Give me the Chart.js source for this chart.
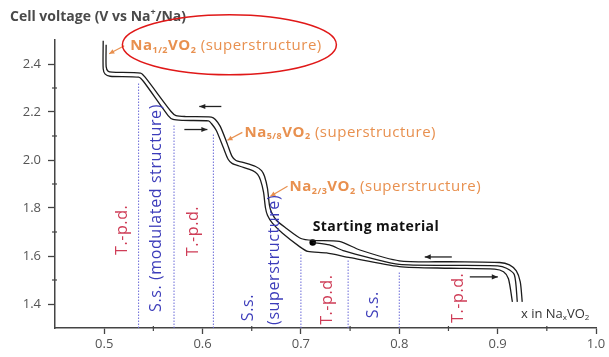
<!DOCTYPE html>
<html><head><meta charset="utf-8">
<script src="https://cdn.jsdelivr.net/npm/chart.js@4.4.0/dist/chart.umd.min.js"></script>
<style>html,body{margin:0;padding:0;background:#fff}#wrap{width:609px;height:357px}</style>
</head><body><div id="wrap"><canvas id="c" width="609" height="357"></canvas></div>
<script>
// Galvanostatic cycling of NaxVO2: cell voltage vs sodium content x
// Charge branch (upper side of the hysteresis band)
const chargeX = [0.502,0.502,0.504,0.508,0.537,0.542,0.568,0.573,0.583,0.609,0.613,0.618,0.625,0.630,0.634,0.641,0.654,0.660,0.663,0.666,0.668,0.670,0.675,0.685,0.700,0.712,0.739,0.760,0.800,0.851,0.902,0.912,0.919,0.923,0.925];
const chargeV = [2.480,2.389,2.370,2.366,2.362,2.343,2.202,2.185,2.181,2.179,2.169,2.140,2.069,2.015,1.998,1.990,1.973,1.956,1.932,1.882,1.812,1.783,1.749,1.716,1.673,1.665,1.661,1.625,1.580,1.576,1.573,1.563,1.538,1.492,1.409];
// Discharge branch (lower side of the hysteresis band)
const dischargeX = [0.499,0.499,0.501,0.506,0.535,0.540,0.565,0.570,0.580,0.606,0.609,0.614,0.621,0.626,0.630,0.638,0.651,0.656,0.659,0.662,0.664,0.666,0.671,0.681,0.699,0.707,0.726,0.750,0.800,0.851,0.897,0.906,0.911,0.915];
const dischargeV = [2.497,2.380,2.358,2.349,2.345,2.327,2.185,2.169,2.165,2.163,2.152,2.123,2.053,2.003,1.986,1.974,1.956,1.940,1.915,1.866,1.800,1.770,1.737,1.696,1.638,1.619,1.613,1.593,1.556,1.549,1.545,1.534,1.505,1.409];
// First discharge, starting from the pristine material
const firstX = [0.712,0.729,0.744,0.770,0.800,0.851,0.900,0.909,0.917,0.920];
const firstV = [1.656,1.646,1.621,1.592,1.565,1.561,1.559,1.549,1.522,1.409];
// Starting material composition
const startX = 0.712, startV = 1.656;
// Phase boundaries (dotted lines) and the voltage where each meets the curve
const boundaryX = [0.535,0.571,0.611,0.700,0.748,0.800];
const boundaryTop = [2.32,2.15,2.11,1.614,1.584,1.535];
// Axis ranges and tick steps
const xMin = 0.45, xMax = 1.0, xStep = 0.05;
const yMin = 1.3, yMax = 2.5, yStep = 0.1;

const pts = (xs, vs) => xs.map((x, i) => ({x, y: vs[i]}));

const FONT = '"Open Sans", sans-serif';
const ORANGE = '#e8904f';
const RED = '#cf3d57';
const BLUE = '#3c3cba';

// Phase region labels (rotated)
const regionLabels = [
  {t:'T.-p.d.', x:0.5183, v:1.709, c:RED},
  {t:'S.s. (modulated structure)', x:0.5530, v:1.800, c:BLUE},
  {t:'T.-p.d.', x:0.5906, v:1.704, c:RED},
  {t:'S.s.', x:0.6466, v:1.385, c:BLUE},
  {t:'(superstructure)', x:0.6731, v:1.584, c:BLUE},
  {t:'T.-p.d.', x:0.7271, v:1.418, c:RED},
  {t:'S.s.', x:0.7739, v:1.397, c:BLUE},
  {t:'T.-p.d.', x:0.8605, v:1.426, c:RED}
];
// Superstructure compositions, with pointer to the curve
const phaseNotes = [
  {frac:'1/2', x:0.5265, v:2.476, from:[0.5204,2.476], to:[0.5051,2.443]},
  {frac:'5/8', x:0.6426, v:2.115, from:[0.6405,2.115], to:[0.6253,2.082]},
  {frac:'2/3', x:0.6885, v:1.888, from:[0.6864,1.891], to:[0.6690,1.849]}
];
// Direction arrows: [xStart, xEnd, v]
const dirArrows = [
  [0.6191,0.5967,2.223],
  [0.5815,0.6049,2.127],
  [0.8534,0.8259,1.596],
  [0.8717,0.9002,1.513]
];

function rich(ctx, x, y, parts, size){
  let cx = x;
  for (const p of parts){
    const s = p.sub || p.sup ? Math.round(size*0.62) : size;
    ctx.font = (p.bold ? 'bold ' : '') + s + 'px ' + FONT;
    const dy = p.sub ? size*0.28 : (p.sup ? -size*0.33 : 0);
    ctx.fillText(p.t, cx, y + dy);
    cx += ctx.measureText(p.t).width;
  }
  return cx;
}

function arrowHead(ctx, x0, y0, x1, y1, len, wid){
  const a = Math.atan2(y1-y0, x1-x0);
  ctx.beginPath();
  ctx.moveTo(x1, y1);
  ctx.lineTo(x1 - len*Math.cos(a) + wid*Math.sin(a), y1 - len*Math.sin(a) - wid*Math.cos(a));
  ctx.lineTo(x1 - len*Math.cos(a) - wid*Math.sin(a), y1 - len*Math.sin(a) + wid*Math.cos(a));
  ctx.closePath();
  ctx.fill();
}

const decorations = {
  id: 'decorations',
  afterDraw(chart){
    const ctx = chart.ctx;
    const xs = chart.scales.x, ys = chart.scales.y;
    const X = v => xs.getPixelForValue(v), Y = v => ys.getPixelForValue(v);
    ctx.save();
    // minor tick marks
    ctx.strokeStyle = '#444'; ctx.lineWidth = 1.2;
    xs.ticks.forEach(t => {
      const k = Math.round(t.value*100);
      if (k % 10 !== 0 && t.value > xMin + 1e-6){
        const px = X(t.value);
        ctx.beginPath(); ctx.moveTo(px, ys.bottom - 2); ctx.lineTo(px, ys.bottom + 3); ctx.stroke();
      }
    });
    ys.ticks.forEach(t => {
      const k = Math.round(t.value*10);
      if (k % 2 !== 0 && t.value < yMax - 1e-6 && t.value > yMin + 1e-6){
        const py = Y(t.value);
        ctx.beginPath(); ctx.moveTo(xs.left - 3, py); ctx.lineTo(xs.left + 2, py); ctx.stroke();
      }
    });

    // axis titles
    ctx.fillStyle = '#4a4a4a';
    ctx.textBaseline = 'middle'; ctx.textAlign = 'left';
    rich(ctx, 10, 17, [{t:'Cell voltage (V vs Na', bold:true},{t:'+', sup:true, bold:true},{t:'/Na)', bold:true}], 14);
    ctx.fillStyle = '#333';
    rich(ctx, 521, 314, [{t:'x in Na'},{t:'x', sub:true},{t:'VO'},{t:'2', sub:true}], 13);

    // region labels
    ctx.textAlign = 'center';
    ctx.font = '16px ' + FONT;
    ctx.letterSpacing = '0.6px';
    regionLabels.forEach(l => {
      ctx.save();
      ctx.translate(X(l.x), Y(l.v));
      ctx.rotate(-Math.PI/2);
      ctx.fillStyle = l.c;
      ctx.fillText(l.t, 0, 0);
      ctx.restore();
    });

    // superstructure notes
    ctx.textAlign = 'left';
    ctx.letterSpacing = '0.5px';
    phaseNotes.forEach(n => {
      ctx.fillStyle = ORANGE;
      rich(ctx, X(n.x), Y(n.v), [{t:'Na', bold:true},{t:n.frac, sub:true, bold:true},{t:'VO', bold:true},{t:'2', sub:true, bold:true},{t:' (superstructure)'}], 15);
      ctx.strokeStyle = ORANGE; ctx.lineWidth = 1.2;
      const x0 = X(n.from[0]), y0 = Y(n.from[1]), x1 = X(n.to[0]), y1 = Y(n.to[1]);
      ctx.beginPath(); ctx.moveTo(x0, y0); ctx.lineTo(x1, y1); ctx.stroke();
      arrowHead(ctx, x0, y0, x1, y1, 5, 2.5);
    });
    ctx.letterSpacing = '0px';

    // direction arrows
    ctx.strokeStyle = '#222'; ctx.fillStyle = '#222'; ctx.lineWidth = 1.3;
    dirArrows.forEach(a => {
      const x0 = X(a[0]), x1 = X(a[1]), y = Y(a[2]);
      ctx.beginPath(); ctx.moveTo(x0, y); ctx.lineTo(x1, y); ctx.stroke();
      arrowHead(ctx, x0, y, x1, y, 6, 2.6);
    });

    // starting material label
    ctx.fillStyle = '#111';
    ctx.font = 'bold 14px ' + FONT;
    ctx.letterSpacing = '0.4px';
    ctx.fillText('Starting material', X(startX), Y(startV) - 16);
    ctx.letterSpacing = '0px';

    // highlight ring around the Na1/2VO2 note
    ctx.strokeStyle = '#e01818'; ctx.lineWidth = 1.5;
    ctx.beginPath();
    ctx.ellipse(X(0.6273), Y(2.480), 107, 30, 0, 0, Math.PI*2);
    ctx.stroke();
    ctx.restore();
  }
};

const boundarySets = boundaryX.map((bx, i) => ({
  data: [{x: bx, y: yMin}, {x: bx, y: boundaryTop[i]}],
  showLine: true, borderColor: '#6a6ad8', borderWidth: 1, borderDash: [1.5, 1.5],
  pointRadius: 0, tension: 0
}));
const curveStyle = {showLine: true, borderColor: '#1c1c1c', borderWidth: 1.3, pointRadius: 0, tension: 0.25};

new Chart(document.getElementById('c'), {
  type: 'scatter',
  data: {
    datasets: [
      ...boundarySets,
      {data: pts(chargeX, chargeV), ...curveStyle},
      {data: pts(dischargeX, dischargeV), ...curveStyle},
      {data: pts(firstX, firstV), ...curveStyle},
      {data: [{x: startX, y: startV}], pointRadius: 3.3, pointBackgroundColor: '#000', pointBorderWidth: 0, showLine: false}
    ]
  },
  options: {
    responsive: false, animation: false, devicePixelRatio: 1,
    layout: {padding: {top: 40, right: 13, left: 0, bottom: 0}},
    plugins: {legend: {display: false}, tooltip: {enabled: false}},
    scales: {
      x: {
        type: 'linear', min: xMin, max: xMax,
        afterFit: s => { s.height = 29; },
        border: {display: true, color: '#444', width: 1.5},
        grid: {display: true, drawOnChartArea: false, drawTicks: true, tickLength: 6,
               tickColor: c => (Math.round(c.tick.value*100) % 10 === 0 ? '#444' : 'rgba(0,0,0,0)'), tickWidth: 1.3},
        ticks: {stepSize: xStep, autoSkip: false, maxRotation: 0, padding: 2,
                color: '#555', font: {size: 13, family: FONT},
                callback: v => (Math.round(v*100) % 10 === 0 ? v.toFixed(1) : '')}
      },
      y: {
        type: 'linear', min: yMin, max: yMax,
        afterFit: s => { s.width = 55; },
        border: {display: true, color: '#444', width: 1.5},
        grid: {display: true, drawOnChartArea: false, drawTicks: true, tickLength: 7,
               tickColor: c => { const k = Math.round(c.tick.value*10); return (k % 2 === 0 && k > 13 && k < 25) ? '#444' : 'rgba(0,0,0,0)'; }, tickWidth: 1.3},
        ticks: {stepSize: yStep, autoSkip: false, padding: 7,
                color: '#555', font: {size: 13, family: FONT},
                callback: v => { const k = Math.round(v*10); return (k % 2 === 0 && k > 13 && k < 25) ? v.toFixed(1) : ''; }}
      }
    }
  },
  plugins: [decorations]
});
</script>
</body></html>
